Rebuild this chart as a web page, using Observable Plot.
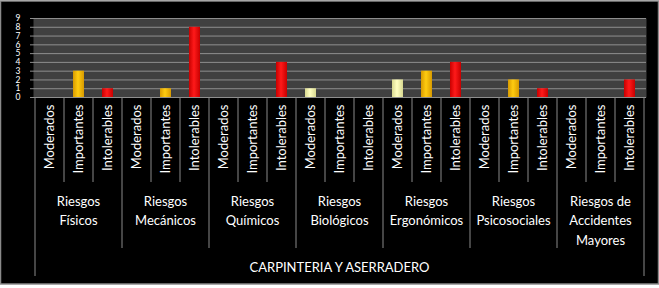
<!DOCTYPE html>
<html>
<head>
<meta charset="utf-8">
<script src="https://cdn.jsdelivr.net/npm/d3@7"></script>
<script src="https://cdn.jsdelivr.net/npm/@observablehq/plot@0.6"></script>
<style>
  html, body { margin: 0; padding: 0; background: #ffffff; }
  #chart svg { display: block; }
</style>
</head>
<body>
<div id="chart"></div>
<script>
const groups = ["Riesgos\nFísicos", "Riesgos\nMecánicos", "Riesgos\nQuímicos", "Riesgos\nBiológicos", "Riesgos\nErgonómicos", "Riesgos\nPsicosociales", "Riesgos de\nAccidentes\nMayores"];
const levels = ["Moderados", "Importantes", "Intolerables"];
const moderados   = [0, 0, 0, 1, 2, 0, 0];
const importantes = [3, 1, 0, 0, 3, 2, 0];
const intolerables = [1, 8, 4, 0, 4, 1, 2];
const yTicks = [0, 1, 2, 3, 4, 5, 6, 7, 8, 9];
const bottomTitle = "CARPINTERIA Y ASERRADERO";

const series = [moderados, importantes, intolerables];
const data = groups.flatMap((g, i) => levels.map((l, j) => ({key: i + "|" + l, group: g, gi: i, level: l, value: series[j][i]})));
const keys = data.map(d => d.key);

const W = 659, H = 288;
const FONT = "Lato, 'Open Sans', sans-serif";

const plot = Plot.plot({
  width: W,
  height: H,
  marginLeft: 33,
  marginRight: 13,
  marginTop: 18,
  marginBottom: 191,
  style: {background: "transparent", fontFamily: FONT, color: "white"},
  x: {domain: keys, padding: 0, axis: null},
  y: {domain: [0, 9], axis: null},
  color: {domain: levels, range: ["url(#gMod)", "url(#gImp)", "url(#gInt)"]},
  marks: [
    Plot.frame({fill: "#404040", stroke: null}),
    Plot.gridY(yTicks, {stroke: "#8e8e8e", strokeOpacity: 1, strokeWidth: 1}),
    Plot.barY(data.filter(d => d.value > 0), {x: "key", y: "value", fill: "level", insetLeft: 9, insetRight: 9}),
    Plot.axisY(yTicks, {tickSize: 3, tickPadding: 10, stroke: "#8e8e8e", fill: "white", fontSize: 8.5, fontFamily: FONT, label: null}),
    Plot.axisX({tickFormat: k => k.split("|")[1], tickRotate: -90, tickSize: 0, tickPadding: 7, fill: "white", fontSize: 13, fontFamily: FONT, label: null})
  ]
});

const svg = d3.select(plot);
// background and border
svg.insert("rect", ":first-child")
  .attr("x", 0.5).attr("y", 1).attr("width", W - 1).attr("height", 283)
  .attr("fill", "#000").attr("stroke", "#8a8a8a").attr("stroke-width", 1.5);

// gradients for the bars
const defs = svg.insert("defs", ":first-child");
function grad(id, edge, mid) {
  const g = defs.append("linearGradient").attr("id", id).attr("x1", "0").attr("x2", "1").attr("y1", "0").attr("y2", "0");
  g.append("stop").attr("offset", "0%").attr("stop-color", edge);
  g.append("stop").attr("offset", "45%").attr("stop-color", mid);
  g.append("stop").attr("offset", "100%").attr("stop-color", edge);
}
grad("gMod", "#d8d890", "#ffffc0");
grad("gImp", "#d89a00", "#ffcc10");
grad("gInt", "#c80000", "#ff1a1a");

// category table below the plot
const x = plot.scale("x");
const y = plot.scale("y");
const bw = x.bandwidth;
const y0 = y.apply(0);
const lineColor = "#8a8a8a";
const overlay = svg.append("g");
for (let k = 0; k <= keys.length; k++) {
  const xp = k < keys.length ? x.apply(keys[k]) : x.apply(keys[keys.length - 1]) + bw;
  let yEnd = y0 + 85;
  if (k % 3 === 0) yEnd = y0 + 151;
  if (k === 0 || k === keys.length) yEnd = y0 + 179;
  overlay.append("line")
    .attr("x1", xp).attr("x2", xp).attr("y1", y0).attr("y2", yEnd)
    .attr("stroke", lineColor).attr("stroke-width", 1);
}
groups.forEach((g, i) => {
  const cx = x.apply(keys[i * 3]) + bw * 1.5;
  const t = overlay.append("text")
    .attr("text-anchor", "middle").attr("fill", "white")
    .attr("font-family", FONT).attr("font-size", 13);
  g.split("\n").forEach((line, li) => {
    t.append("tspan").attr("x", cx).attr("y", y0 + 104 + li * 19.5).attr("dy", "0.35em").text(line);
  });
});
const x0 = x.apply(keys[0]);
const x1 = x.apply(keys[keys.length - 1]) + bw;
overlay.append("text")
  .attr("x", (x0 + x1) / 2).attr("y", y0 + 170).attr("dy", "0.35em")
  .attr("text-anchor", "middle").attr("fill", "white")
  .attr("font-family", FONT).attr("font-size", 13)
  .text(bottomTitle);

document.getElementById("chart").appendChild(plot);
</script>
</body>
</html>
